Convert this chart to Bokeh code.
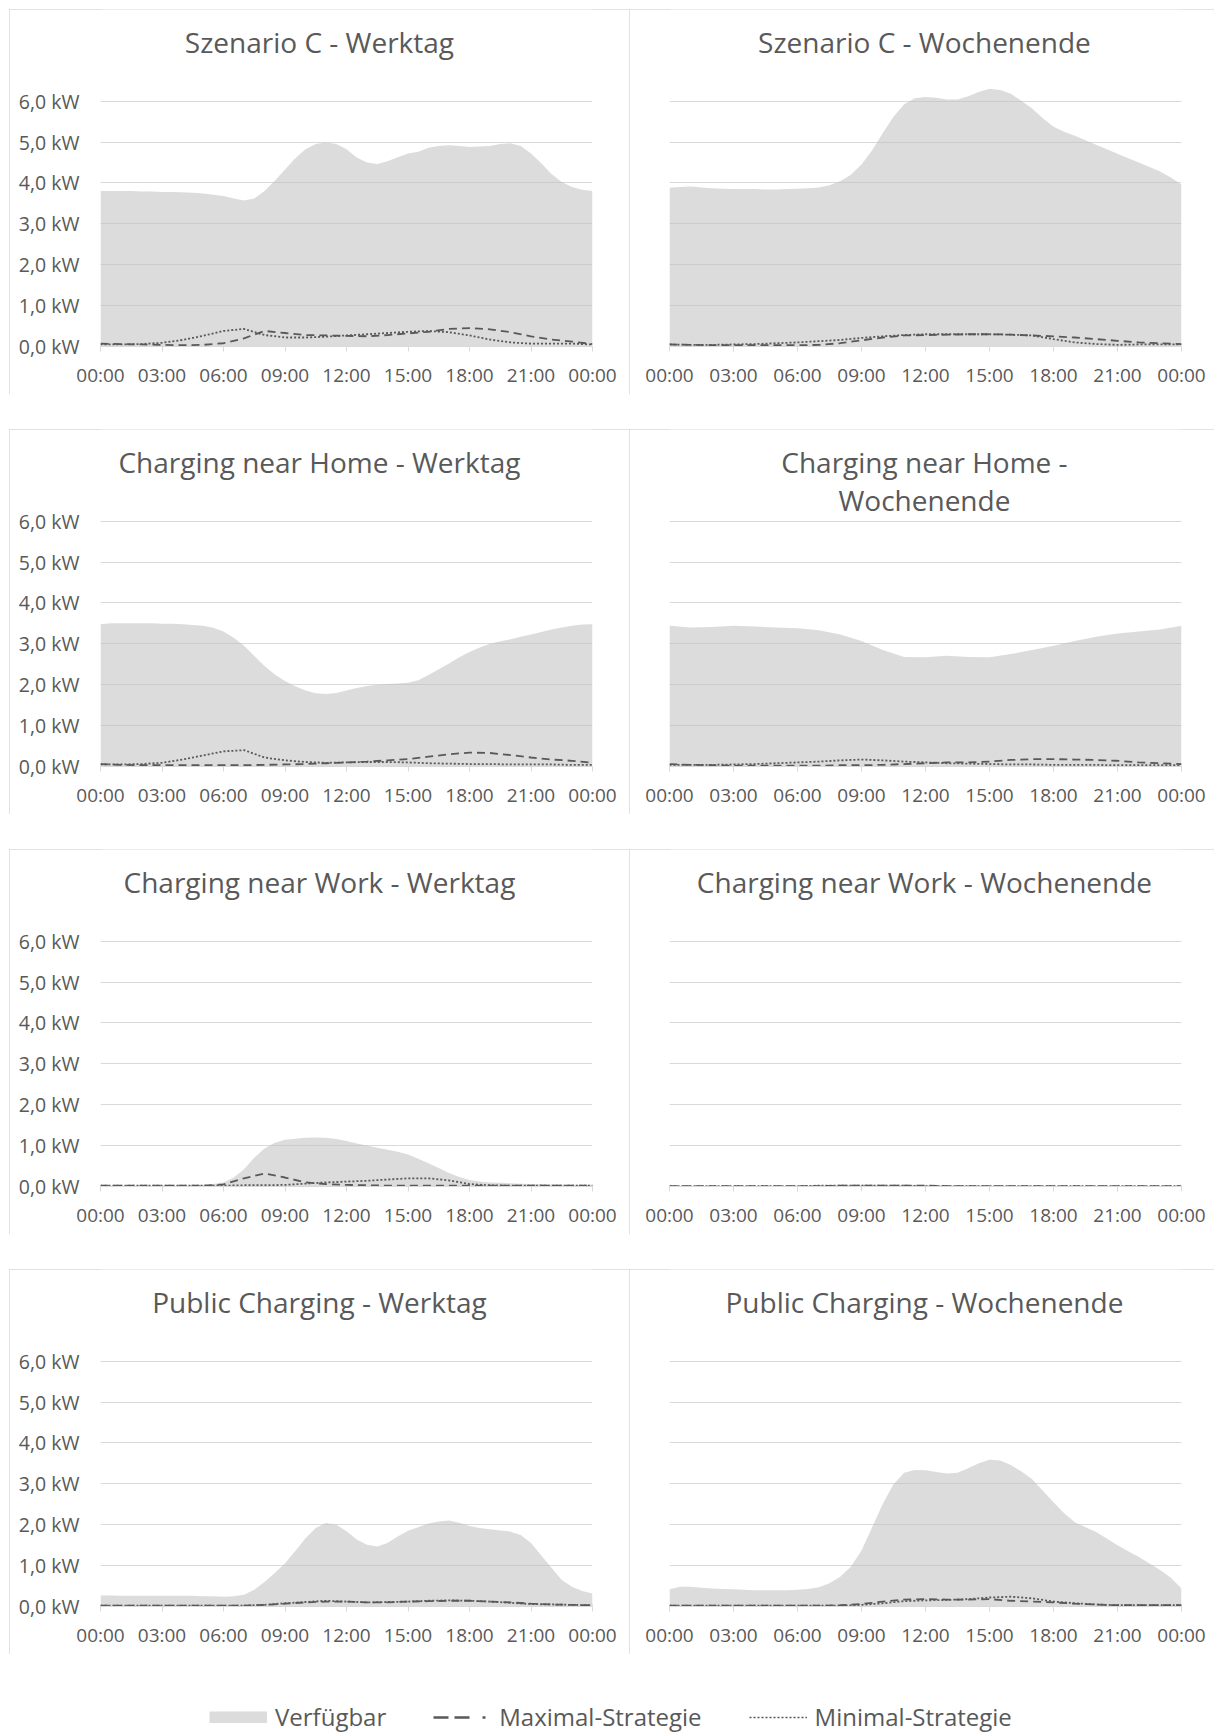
from bokeh.plotting import figure
from bokeh.models import Range1d, FixedTicker, Label, Legend, LegendItem, Spacer
from bokeh.layouts import row, column
from bokeh.embed import file_html
from bokeh.resources import INLINE

# ---------------- data ----------------
HOURS = list(range(25))                       # hourly time grid (0 .. 24 h)
HALF_HOURS = [h / 2 for h in range(49)]       # half-hour time grid (0 .. 24 h)
X_TICKS = [0, 3, 6, 9, 12, 15, 18, 21, 24]
X_LABELS = ["00:00", "03:00", "06:00", "09:00", "12:00", "15:00", "18:00", "21:00", "00:00"]
Y_TICKS = [0, 1, 2, 3, 4, 5, 6]
Y_LABELS = ["0,0 kW", "1,0 kW", "2,0 kW", "3,0 kW", "4,0 kW", "5,0 kW", "6,0 kW"]
SERIES = ["Verfügbar", "Maximal-Strategie", "Minimal-Strategie"]

TITLES = [
    "Szenario C - Werktag", "Szenario C - Wochenende",
    "Charging near Home - Werktag", "Charging near Home -\nWochenende",
    "Charging near Work - Werktag", "Charging near Work - Wochenende",
    "Public Charging - Werktag", "Public Charging - Wochenende",
]

# Szenario C - Werktag
C_WT_AVAIL = [3.80, 3.80, 3.80, 3.80, 3.79, 3.79, 3.78, 3.78, 3.77, 3.76, 3.74, 3.71, 3.68,
              3.62, 3.57, 3.62, 3.80, 4.05, 4.33, 4.60, 4.82, 4.95, 4.99, 4.95, 4.82, 4.62,
              4.50, 4.46, 4.53, 4.63, 4.72, 4.76, 4.86, 4.90, 4.92, 4.90, 4.88, 4.89, 4.90,
              4.95, 4.97, 4.90, 4.72, 4.48, 4.22, 4.02, 3.90, 3.83, 3.80]
C_WT_MAX = [0.07, 0.06, 0.05, 0.04, 0.03, 0.04, 0.08, 0.20, 0.38, 0.33, 0.28, 0.27, 0.26,
            0.25, 0.28, 0.32, 0.36, 0.43, 0.45, 0.42, 0.35, 0.25, 0.17, 0.12, 0.06]
C_WT_MIN = [0.05, 0.05, 0.06, 0.09, 0.16, 0.26, 0.38, 0.43, 0.28, 0.22, 0.22, 0.24, 0.27,
            0.30, 0.33, 0.36, 0.38, 0.35, 0.27, 0.17, 0.10, 0.07, 0.07, 0.07, 0.05]

# Szenario C - Wochenende
C_WE_AVAIL = [3.88, 3.90, 3.91, 3.89, 3.87, 3.86, 3.85, 3.85, 3.85, 3.84, 3.84, 3.85, 3.86,
              3.87, 3.89, 3.94, 4.04, 4.20, 4.45, 4.80, 5.22, 5.62, 5.92, 6.07, 6.10, 6.08,
              6.04, 6.04, 6.12, 6.22, 6.30, 6.27, 6.18, 6.00, 5.82, 5.58, 5.37, 5.25, 5.15,
              5.04, 4.93, 4.82, 4.71, 4.60, 4.50, 4.39, 4.28, 4.13, 3.96]
C_WE_MAX = [0.05, 0.04, 0.03, 0.03, 0.03, 0.03, 0.03, 0.04, 0.08, 0.15, 0.22, 0.27, 0.28,
            0.29, 0.30, 0.30, 0.29, 0.27, 0.25, 0.22, 0.18, 0.14, 0.10, 0.08, 0.06]
C_WE_MIN = [0.05, 0.04, 0.04, 0.05, 0.06, 0.08, 0.10, 0.13, 0.16, 0.21, 0.25, 0.28, 0.30,
            0.30, 0.30, 0.30, 0.29, 0.27, 0.18, 0.10, 0.06, 0.04, 0.05, 0.05, 0.05]

# Charging near Home - Werktag
H_WT_AVAIL = [3.48, 3.50, 3.50, 3.50, 3.50, 3.50, 3.49, 3.49, 3.48, 3.46, 3.44, 3.39, 3.30,
              3.15, 2.95, 2.70, 2.46, 2.25, 2.09, 1.96, 1.86, 1.79, 1.77, 1.80, 1.86, 1.92,
              1.97, 2.00, 2.02, 2.03, 2.05, 2.11, 2.24, 2.38, 2.52, 2.67, 2.80, 2.91, 3.00,
              3.06, 3.11, 3.17, 3.23, 3.29, 3.35, 3.40, 3.44, 3.47, 3.48]
H_WT_MAX = [0.06, 0.04, 0.03, 0.03, 0.03, 0.03, 0.03, 0.03, 0.04, 0.05, 0.06, 0.08, 0.10,
            0.12, 0.15, 0.18, 0.24, 0.30, 0.34, 0.33, 0.28, 0.22, 0.17, 0.14, 0.09]
H_WT_MIN = [0.05, 0.05, 0.06, 0.09, 0.17, 0.27, 0.37, 0.40, 0.22, 0.15, 0.11, 0.09, 0.10,
            0.11, 0.11, 0.10, 0.08, 0.07, 0.06, 0.06, 0.05, 0.05, 0.05, 0.04, 0.04]

# Charging near Home - Wochenende
H_WE_AVAIL = [3.44, 3.40, 3.41, 3.44, 3.42, 3.40, 3.38, 3.33, 3.23, 3.07, 2.85, 2.68, 2.67,
              2.71, 2.68, 2.67, 2.75, 2.85, 2.95, 3.07, 3.17, 3.25, 3.30, 3.35, 3.44]
H_WE_MAX = [0.06, 0.04, 0.03, 0.02, 0.02, 0.02, 0.02, 0.02, 0.03, 0.03, 0.04, 0.06, 0.08,
            0.10, 0.10, 0.12, 0.16, 0.18, 0.18, 0.17, 0.16, 0.14, 0.10, 0.08, 0.06]
H_WE_MIN = [0.04, 0.04, 0.04, 0.05, 0.06, 0.08, 0.10, 0.12, 0.15, 0.17, 0.15, 0.12, 0.10,
            0.08, 0.07, 0.06, 0.05, 0.05, 0.04, 0.04, 0.04, 0.03, 0.03, 0.03, 0.03]

# Charging near Work - Werktag
W_WT_AVAIL = [0.02, 0.02, 0.02, 0.02, 0.02, 0.02, 0.02, 0.02, 0.02, 0.02, 0.04, 0.06, 0.10,
              0.22, 0.42, 0.70, 0.93, 1.07, 1.14, 1.17, 1.19, 1.20, 1.19, 1.16, 1.11, 1.05,
              1.00, 0.95, 0.90, 0.85, 0.78, 0.68, 0.57, 0.45, 0.33, 0.23, 0.16, 0.12, 0.10,
              0.09, 0.08, 0.07, 0.06, 0.06, 0.05, 0.05, 0.04, 0.04, 0.04]
W_WT_MAX = [0.02, 0.02, 0.02, 0.02, 0.02, 0.02, 0.05, 0.20, 0.32, 0.22, 0.10, 0.06, 0.04,
            0.03, 0.02, 0.02, 0.02, 0.02, 0.02, 0.02, 0.02, 0.02, 0.02, 0.02, 0.02]
W_WT_MIN = [0.02, 0.02, 0.02, 0.02, 0.02, 0.02, 0.02, 0.03, 0.03, 0.04, 0.07, 0.10, 0.12,
            0.14, 0.17, 0.20, 0.20, 0.15, 0.06, 0.03, 0.02, 0.02, 0.02, 0.02, 0.02]

# Charging near Work - Wochenende
W_WE_AVAIL = [0.01, 0.01, 0.01, 0.01, 0.01, 0.01, 0.02, 0.03, 0.04, 0.04, 0.04, 0.04, 0.04,
              0.03, 0.03, 0.02, 0.02, 0.02, 0.01, 0.01, 0.01, 0.01, 0.01, 0.01, 0.01]
W_WE_MAX = [0.01, 0.01, 0.01, 0.01, 0.01, 0.01, 0.01, 0.01, 0.02, 0.02, 0.02, 0.02, 0.02,
            0.01, 0.01, 0.01, 0.01, 0.01, 0.01, 0.01, 0.01, 0.01, 0.01, 0.01, 0.01]
W_WE_MIN = [0.01, 0.01, 0.01, 0.01, 0.01, 0.01, 0.01, 0.02, 0.02, 0.02, 0.02, 0.02, 0.01,
            0.01, 0.01, 0.01, 0.01, 0.01, 0.01, 0.01, 0.01, 0.01, 0.01, 0.01, 0.01]

# Public Charging - Werktag
P_WT_AVAIL = [0.27, 0.27, 0.26, 0.26, 0.26, 0.26, 0.26, 0.26, 0.26, 0.26, 0.25, 0.25, 0.24,
              0.25, 0.29, 0.41, 0.60, 0.82, 1.06, 1.36, 1.67, 1.92, 2.04, 2.00, 1.84, 1.64,
              1.51, 1.47, 1.55, 1.71, 1.85, 1.94, 2.03, 2.08, 2.10, 2.05, 1.97, 1.92, 1.89,
              1.86, 1.83, 1.75, 1.55, 1.25, 0.95, 0.65, 0.48, 0.38, 0.32]
P_WT_MAX = [0.02, 0.02, 0.02, 0.02, 0.02, 0.02, 0.02, 0.02, 0.04, 0.07, 0.10, 0.12, 0.12,
            0.10, 0.10, 0.12, 0.13, 0.14, 0.14, 0.12, 0.10, 0.07, 0.05, 0.04, 0.03]
P_WT_MIN = [0.02, 0.02, 0.02, 0.02, 0.02, 0.02, 0.02, 0.02, 0.04, 0.08, 0.11, 0.14, 0.12,
            0.10, 0.11, 0.12, 0.14, 0.15, 0.14, 0.12, 0.09, 0.06, 0.05, 0.04, 0.03]

# Public Charging - Wochenende
P_WE_AVAIL = [0.42, 0.48, 0.48, 0.46, 0.44, 0.43, 0.42, 0.41, 0.40, 0.40, 0.40, 0.40, 0.41,
              0.43, 0.47, 0.57, 0.73, 0.97, 1.37, 1.94, 2.51, 2.99, 3.27, 3.34, 3.33, 3.29,
              3.25, 3.27, 3.38, 3.50, 3.59, 3.57, 3.46, 3.30, 3.11, 2.83, 2.55, 2.28, 2.06,
              1.94, 1.82, 1.66, 1.50, 1.35, 1.21, 1.05, 0.89, 0.70, 0.44]
P_WE_MAX = [0.02, 0.02, 0.02, 0.02, 0.02, 0.02, 0.02, 0.02, 0.03, 0.06, 0.12, 0.17, 0.18,
            0.17, 0.17, 0.18, 0.14, 0.12, 0.10, 0.07, 0.05, 0.03, 0.03, 0.03, 0.03]
P_WE_MIN = [0.02, 0.02, 0.02, 0.02, 0.02, 0.02, 0.02, 0.02, 0.02, 0.04, 0.08, 0.13, 0.15,
            0.16, 0.18, 0.22, 0.24, 0.20, 0.12, 0.08, 0.05, 0.03, 0.03, 0.03, 0.03]

# (time grid of the area, area, maximal, minimal) for each panel
PANELS = [
    (HALF_HOURS, C_WT_AVAIL, C_WT_MAX, C_WT_MIN), (HALF_HOURS, C_WE_AVAIL, C_WE_MAX, C_WE_MIN),
    (HALF_HOURS, H_WT_AVAIL, H_WT_MAX, H_WT_MIN), (HOURS, H_WE_AVAIL, H_WE_MAX, H_WE_MIN),
    (HALF_HOURS, W_WT_AVAIL, W_WT_MAX, W_WT_MIN), (HOURS, W_WE_AVAIL, W_WE_MAX, W_WE_MIN),
    (HALF_HOURS, P_WT_AVAIL, P_WT_MAX, P_WT_MIN), (HALF_HOURS, P_WE_AVAIL, P_WE_MAX, P_WE_MIN),
]

# ---------------- style / layout ----------------
FONT = "Open Sans"
TXT = "#595959"
GRID = "#d9d9d9"
AREA = "#bfbfbf"
AREA_ALPHA = 0.55
AREA_ON_WHITE = "#dcdcdc"
LINE = "#595959"

PANEL_H = 385
FRAME_BOTTOM = 337          # px from panel top to the 0 kW line
PX_PER_KW = 40.9            # vertical scale
Y_END = FRAME_BOTTOM / PX_PER_KW   # frame reaches up to the panel top (title lives inside)


def make_panel(idx):
    left = idx % 2 == 0
    xs, avail, mx, mn = PANELS[idx]
    w = 620 if left else 585
    bl = 91 if left else 40
    fw = 492 if left else 512
    br = w - bl - fw
    p = figure(width=w, height=PANEL_H, x_range=Range1d(0, 24), y_range=Range1d(0, Y_END),
               output_backend="svg", toolbar_location=None, title=None,
               min_border_left=bl, min_border_right=br,
               min_border_top=0, min_border_bottom=PANEL_H - FRAME_BOTTOM)
    p.outline_line_color = None
    p.background_fill_color = "white"
    p.border_fill_color = "white"
    p.styles = {"outline": "1px solid #d9d9d9", "outline-offset": "-1px"}

    p.xgrid.visible = False
    p.ygrid.ticker = FixedTicker(ticks=Y_TICKS)
    p.ygrid.grid_line_color = GRID
    p.ygrid.grid_line_width = 1

    xa = p.xaxis[0]
    xa.ticker = FixedTicker(ticks=X_TICKS)
    xa.major_label_overrides = {t: l for t, l in zip(X_TICKS, X_LABELS)}
    xa.axis_line_color = GRID
    xa.major_tick_line_color = GRID
    xa.major_tick_out = 5
    xa.major_tick_in = 0
    xa.minor_tick_line_color = None
    xa.major_label_text_font = FONT
    xa.major_label_text_font_size = "19px"
    xa.major_label_text_color = TXT
    xa.major_label_standoff = 10

    ya = p.yaxis[0]
    ya.ticker = FixedTicker(ticks=Y_TICKS)
    ya.major_label_overrides = {t: l for t, l in zip(Y_TICKS, Y_LABELS)}
    ya.axis_line_color = None
    ya.major_tick_line_color = None
    ya.minor_tick_line_color = None
    ya.major_label_text_font = FONT
    ya.major_label_text_font_size = "19.5px"
    ya.major_label_text_color = TXT
    ya.major_label_standoff = 15
    if not left:
        ya.visible = False

    p.varea(x=xs, y1=[0] * len(xs), y2=avail, fill_color=AREA, fill_alpha=AREA_ALPHA)
    p.line(HOURS, mx, line_color=LINE, line_width=1.8, line_dash="8 5")
    p.line(HOURS, mn, line_color=LINE, line_width=1.8, line_dash="2 2")

    title = TITLES[idx]
    two = "\n" in title
    tx = 10.68 if left else 11.95
    ty_px = 51.5 if two else 32.0            # title centre, px below panel top
    ty = (FRAME_BOTTOM - ty_px) / PX_PER_KW
    p.add_layout(Label(x=tx, y=ty, x_units="data", y_units="data", text=title,
                       text_align="center", text_baseline="middle",
                       text_font=FONT, text_font_size="28px", text_color=TXT,
                       text_line_height=1.0))
    return p


children = [Spacer(width=1, height=9)]
for r in range(4):
    children.append(row(Spacer(width=9, height=PANEL_H), make_panel(2 * r), make_panel(2 * r + 1),
                        spacing=0))
    if r < 3:
        children.append(Spacer(width=1, height=35))

# legend strip
lp = figure(width=1214, height=79, output_backend="svg", toolbar_location=None,
            x_range=Range1d(0, 1), y_range=Range1d(0, 1), min_border=0,
            x_axis_location=None, y_axis_location=None, title=None)
lp.grid.visible = False
lp.outline_line_color = None
r_av = lp.line(x=[5, 6], y=[5, 5], line_color=AREA_ON_WHITE, line_width=12)
r_mx = lp.line(x=[5, 6], y=[5, 5], line_color=LINE, line_width=2.6, line_dash="15 6 15 13 3 20")
r_mn = lp.line(x=[5, 6], y=[5, 5], line_color=LINE, line_width=1.6, line_dash="2 2")
legend = Legend(items=[LegendItem(label=SERIES[0], renderers=[r_av]),
                       LegendItem(label=SERIES[1], renderers=[r_mx]),
                       LegendItem(label=SERIES[2], renderers=[r_mn])],
                orientation="horizontal", location=(209, 0),
                label_text_font=FONT, label_text_font_size="24px", label_text_color=TXT,
                glyph_width=58, glyph_height=12, label_standoff=8, spacing=47,
                padding=0, margin=0, border_line_color=None, background_fill_alpha=0)
lp.add_layout(legend, "center")
children.append(lp)

layout = column(*children, spacing=0)

open("out.html", "w").write(file_html(layout, INLINE))
